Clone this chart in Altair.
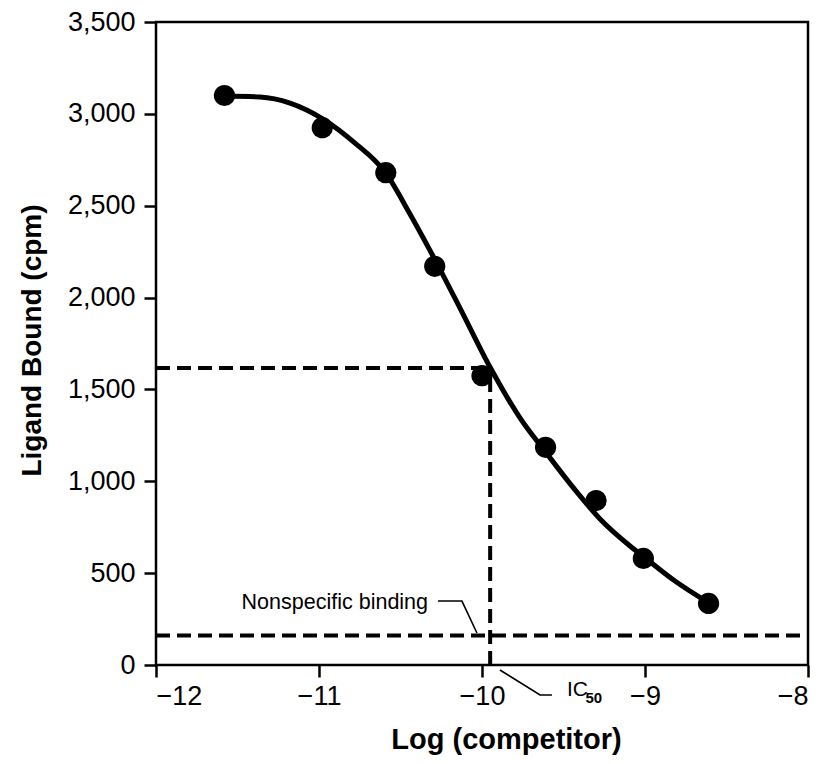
import altair as alt
import pandas as pd

# Observed data points
pt_x = [-11.58, -10.98, -10.59, -10.29, -10.0, -9.61, -9.30, -9.01, -8.61]
pt_y = [3100, 2925, 2680, 2170, 1575, 1185, 895, 580, 335]

# Fitted curve
curve_x = [-11.583, -11.362, -11.178, -10.975, -10.779, -10.595, -10.442, -10.294,
           -10.135, -9.951, -9.767, -9.601, -9.429, -9.276, -9.092, -9.006,
           -8.816, -8.607]
curve_y = [3097, 3092, 3059, 2972, 2841, 2683, 2455, 2215,
           1943, 1622, 1345, 1149, 953, 795, 648, 588,
           457, 337]

# Reference lines
nsb_level = 160
ic50_x = -9.95
ic50_y = 1617
x_min, x_max = -12, -8

# Annotation leader lines
nsb_leader_x = [-10.27, -10.123, -10.031]
nsb_leader_y = [348, 348, 174]
ic_leader_x = [-9.89, -9.644, -9.571]
ic_leader_y = [-27, -163, -163]

# Annotation texts
nsb_text = "Nonspecific binding"
nsb_text_x, nsb_text_y = -10.331, 337
ic_text, ic_sub = "IC", "50"
ic_text_x, ic_text_y = -9.479, -136
ic_sub_x, ic_sub_y = -9.365, -178

x_ticks = [-12, -11, -10, -9, -8]
y_ticks = [0, 500, 1000, 1500, 2000, 2500, 3000, 3500]

FONT = "Liberation Sans"

xs = alt.Scale(domain=[x_min, x_max], nice=False)
ys = alt.Scale(domain=[0, 3500], nice=False)

xaxis = alt.Axis(values=x_ticks, format="d", title="Log (competitor)",
                 titleX=350, titleY=83, titleBaseline="alphabetic",
                 labelPadding=6)
yaxis = alt.Axis(values=y_ticks, format=",d", title="Ligand Bound (cpm)",
                 titleX=-116, titleY=318, titleBaseline="alphabetic",
                 titleFontSize=28, labelPadding=9)

pts = pd.DataFrame({"x": pt_x, "y": pt_y})
crv = pd.DataFrame({"x": curve_x, "y": curve_y, "i": range(len(curve_x))})

dash = [14, 7]

nsb_rule = alt.Chart(pd.DataFrame({"x": [x_min], "x2": [x_max], "y": [nsb_level]})).mark_rule(
    color="black", strokeWidth=4, strokeDash=dash
).encode(x=alt.X("x:Q", scale=xs, axis=xaxis), x2="x2:Q",
         y=alt.Y("y:Q", scale=ys, axis=yaxis))

ic_h = alt.Chart(pd.DataFrame({"x": [x_min], "x2": [ic50_x], "y": [ic50_y]})).mark_rule(
    color="black", strokeWidth=4, strokeDash=dash
).encode(x=alt.X("x:Q", scale=xs), x2="x2:Q", y=alt.Y("y:Q", scale=ys))

ic_v = alt.Chart(pd.DataFrame({"x": [ic50_x], "y": [0], "y2": [ic50_y]})).mark_rule(
    color="black", strokeWidth=4, strokeDash=dash
).encode(x=alt.X("x:Q", scale=xs), y=alt.Y("y:Q", scale=ys), y2="y2:Q")

curve = alt.Chart(crv).mark_line(color="black", strokeWidth=5, interpolate="monotone").encode(
    x=alt.X("x:Q", scale=xs), y=alt.Y("y:Q", scale=ys), order="i:Q")

points = alt.Chart(pts).mark_circle(color="black", size=450, opacity=1).encode(
    x=alt.X("x:Q", scale=xs), y=alt.Y("y:Q", scale=ys))

lead = pd.DataFrame({
    "x": nsb_leader_x + ic_leader_x,
    "y": nsb_leader_y + ic_leader_y,
    "g": ["a"] * 3 + ["b"] * 3,
    "i": list(range(3)) + list(range(3)),
})
leaders = alt.Chart(lead).mark_line(color="black", strokeWidth=1.6, clip=False).encode(
    x=alt.X("x:Q", scale=xs), y=alt.Y("y:Q", scale=ys), detail="g:N", order="i:Q")

t1 = alt.Chart(pd.DataFrame({"x": [nsb_text_x], "y": [nsb_text_y], "t": [nsb_text]})).mark_text(
    font=FONT, fontSize=21.5, align="right", baseline="middle", color="black"
).encode(x=alt.X("x:Q", scale=xs), y=alt.Y("y:Q", scale=ys), text="t:N")

t2 = alt.Chart(pd.DataFrame({"x": [ic_text_x], "y": [ic_text_y], "t": [ic_text]})).mark_text(
    font=FONT, fontSize=21, align="left", baseline="middle", color="black", clip=False
).encode(x=alt.X("x:Q", scale=xs), y=alt.Y("y:Q", scale=ys), text="t:N")

t3 = alt.Chart(pd.DataFrame({"x": [ic_sub_x], "y": [ic_sub_y], "t": [ic_sub]})).mark_text(
    font=FONT, fontSize=15, fontWeight="bold", align="left", baseline="middle", color="black", clip=False
).encode(x=alt.X("x:Q", scale=xs), y=alt.Y("y:Q", scale=ys), text="t:N")

chart = alt.layer(nsb_rule, ic_h, ic_v, curve, points, leaders, t1, t2, t3).properties(
    width=652, height=643,
    autosize=alt.AutoSizeParams(type="none"),
    padding={"left": 148, "top": 14, "right": 12, "bottom": 91},
    background="white",
).configure_view(
    stroke="black", strokeWidth=2.5
).configure_axis(
    grid=False, domain=False, ticks=True, tickColor="black", tickWidth=2.5, tickSize=12,
    labelFont=FONT, labelFontSize=27, labelColor="black",
    titleFont=FONT, titleFontSize=29, titleFontWeight="bold", titleColor="black",
)

chart.save("out.html", embed_options={"renderer": "svg", "actions": False})
